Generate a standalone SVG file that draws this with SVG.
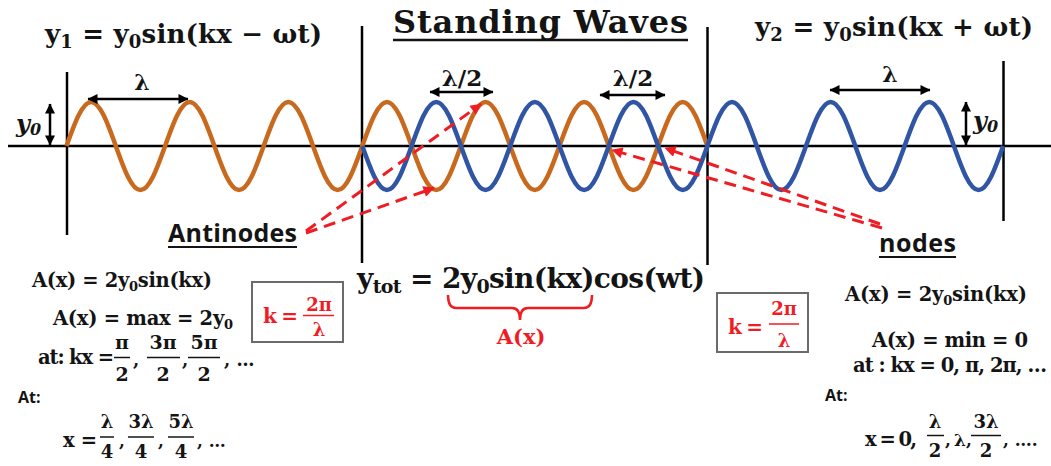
<svg xmlns="http://www.w3.org/2000/svg" width="1051" height="466" viewBox="0 0 1051 466">
<defs>
<marker id="ah" viewBox="0 0 10 10" refX="9.5" refY="5" markerWidth="11" markerHeight="10" markerUnits="userSpaceOnUse" orient="auto-start-reverse"><path d="M0 0 L10 5 L0 10 z" fill="#000"/></marker>
<marker id="rh" viewBox="0 0 10 10" refX="9.5" refY="5" markerWidth="13" markerHeight="11" markerUnits="userSpaceOnUse" orient="auto"><path d="M0 0 L10 5 L0 10 z" fill="#f01c24"/></marker>
<style>
.m{font-family:"DejaVu Serif","Liberation Serif",serif;font-weight:bold;fill:#141414}
.s{font-family:"Open Sans","Liberation Sans",sans-serif;font-weight:bold;fill:#141414}
.r{fill:#f01c24}
.c{text-anchor:middle}
.ln{stroke:#000;stroke-width:2.5;fill:none}
.dim{stroke:#000;stroke-width:2.5;marker-start:url(#ah);marker-end:url(#ah)}
.dash{stroke:#f01c24;stroke-width:3;stroke-dasharray:12 7;fill:none;marker-end:url(#rh)}
.box{fill:#fff;stroke:#6b6b6b;stroke-width:2}
.fb{stroke:#141414;stroke-width:1.5}
.fr{stroke:#f01c24;stroke-width:1.5}
.wo{fill:none;stroke:#c8691e;stroke-width:4.5}
.wb{fill:none;stroke:#2f55a4;stroke-width:4.5}
</style>
</defs>

<g id="frame">
<line class="ln" x1="8" y1="146" x2="1051" y2="146" stroke-width="3"/>
<line class="ln" x1="67" y1="72" x2="67" y2="235"/>
<line class="ln" x1="362" y1="26" x2="362" y2="263"/>
<line class="ln" x1="707.5" y1="27" x2="707.5" y2="265"/>
<line class="ln" x1="1003.5" y1="61" x2="1003.5" y2="221"/>
</g>

<g id="wave-y1">
<path class="wo" d="M66.5 146 c8.04 -22.54 15.73 -44 24.65 -44 s16.61 21.46 24.65 44 s15.73 44 24.65 44 s16.61 -21.46 24.65 -44 s15.73 -44 24.65 -44 s16.61 21.46 24.65 44 s15.73 44 24.65 44 s16.61 -21.46 24.65 -44 s15.73 -44 24.65 -44 s16.61 21.46 24.65 44 s15.73 44 24.65 44 s16.61 -21.46 24.65 -44 s15.73 -44 24.65 -44 s16.61 21.46 24.65 44 s15.73 44 24.65 44 s16.61 -21.46 24.65 -44 s15.73 -44 24.65 -44 s16.61 21.46 24.65 44 s15.73 44 24.65 44 s16.61 -21.46 24.65 -44 s15.73 -44 24.65 -44 s16.61 21.46 24.65 44 s15.73 44 24.65 44 s16.61 -21.46 24.65 -44 s15.73 -44 24.65 -44 s16.61 21.46 24.65 44"/>
</g>
<g id="wave-y2">
<path class="wb" d="M362.3 146 c8.04 22.54 15.73 44 24.65 44 s16.61 -21.46 24.65 -44 s15.73 -44 24.65 -44 s16.61 21.46 24.65 44 s15.73 44 24.65 44 s16.61 -21.46 24.65 -44 s15.73 -44 24.65 -44 s16.61 21.46 24.65 44 s15.73 44 24.65 44 s16.61 -21.46 24.65 -44 s15.73 -44 24.65 -44 s16.61 21.46 24.65 44 s15.73 44 24.65 44 s16.61 -21.46 24.65 -44 s15.73 -44 24.65 -44 s16.61 21.46 24.65 44 s15.73 44 24.65 44 s16.61 -21.46 24.65 -44 s15.73 -44 24.65 -44 s16.61 21.46 24.65 44 s15.73 44 24.65 44 s16.61 -21.46 24.65 -44 s15.73 -44 24.65 -44 s16.61 21.46 24.65 44 s15.73 44 24.65 44 s16.61 -21.46 24.65 -44"/>
</g>

<g id="title">
<text class="m" x="393" y="33" font-size="32" textLength="295">Standing Waves</text>
<line x1="393" y1="40" x2="688" y2="40" stroke="#141414" stroke-width="2.5"/>
</g>

<g id="eq-y1">
<text class="m" x="45" y="43" font-size="26" textLength="277">y<tspan font-size="18" dy="5">1</tspan><tspan dy="-5"> = y</tspan><tspan font-size="18" dy="5">0</tspan><tspan dy="-5">sin(kx − ωt)</tspan></text>
</g>
<g id="eq-y2">
<text class="m" x="755" y="36" font-size="26" textLength="278">y<tspan font-size="18" dy="5">2</tspan><tspan dy="-5"> = y</tspan><tspan font-size="18" dy="5">0</tspan><tspan dy="-5">sin(kx + ωt)</tspan></text>
</g>

<g id="dimensions">
<line class="dim" x1="88" y1="99" x2="188" y2="99"/>
<text class="m c" x="142" y="90" font-size="22">λ</text>
<line class="dim" x1="50" y1="104" x2="50" y2="145"/>
<text class="m" x="16" y="132" font-size="24" font-style="italic">y<tspan font-size="16" dy="3">0</tspan></text>
<line class="dim" x1="430" y1="92" x2="493" y2="92"/>
<text class="m c" x="462" y="86" font-size="23">λ/2</text>
<line class="dim" x1="600" y1="95" x2="665" y2="95"/>
<text class="m c" x="633" y="86" font-size="23">λ/2</text>
<line class="dim" x1="830" y1="90" x2="930" y2="90"/>
<text class="m c" x="890" y="82" font-size="22">λ</text>
<line class="dim" x1="966" y1="102" x2="966" y2="145"/>
<text class="m" x="973" y="129" font-size="24" font-style="italic">y<tspan font-size="16" dy="3">0</tspan></text>
</g>

<g id="connectors">
<line class="dash" x1="306" y1="231" x2="481" y2="104"/>
<line class="dash" x1="306" y1="233" x2="434" y2="188"/>
<line class="dash" x1="880" y1="224" x2="665" y2="148"/>
<line class="dash" x1="882" y1="228" x2="612" y2="150"/>
</g>

<g id="antinodes-label">
<text class="s" x="168" y="242" font-size="25" textLength="129">Antinodes</text>
<line x1="168" y1="247" x2="297" y2="247" stroke="#141414" stroke-width="2"/>
</g>
<g id="nodes-label">
<text class="s" x="879" y="252" font-size="25" textLength="77">nodes</text>
<line x1="879" y1="257" x2="956" y2="257" stroke="#141414" stroke-width="2"/>
</g>

<g id="eq-ytot">
<text class="m" x="357" y="288" font-size="28" textLength="348">y<tspan font-size="19" dy="5">tot</tspan><tspan dy="-5"> = 2y</tspan><tspan font-size="19" dy="5">0</tspan><tspan dy="-5">sin(kx)cos(wt)</tspan></text>
<path d="M448 295 Q448 308 456 308 L512 308 Q520 308 520 320 Q520 308 528 308 L584 308 Q592 308 592 295" fill="none" stroke="#f01c24" stroke-width="2.5"/>
<text class="m r c" x="521" y="344" font-size="21">A(x)</text>
</g>

<g id="k-box-left">
<rect class="box" x="252" y="282" width="91" height="60"/>
<text class="m r" x="263" y="323" font-size="20" textLength="35">k =</text>
<text class="m r c" x="319" y="311" font-size="18">2π</text>
<line class="fr" x1="303" y1="315.5" x2="334" y2="315.5"/>
<text class="m r c" x="319" y="336" font-size="18">λ</text>
</g>

<g id="k-box-right">
<rect class="box" x="717" y="293" width="91" height="59"/>
<text class="m r" x="728" y="334" font-size="20" textLength="35">k =</text>
<text class="m r c" x="784" y="315" font-size="18">2π</text>
<line class="fr" x1="769" y1="324" x2="799" y2="324"/>
<text class="m r c" x="784" y="347" font-size="18">λ</text>
</g>

<g id="antinode-math">
<text class="m" x="32" y="287" font-size="19.5" textLength="180">A(x) = 2y<tspan font-size="13" dy="4">0</tspan><tspan dy="-4">sin(kx)</tspan></text>
<text class="m" x="53" y="325" font-size="19.5" textLength="180">A(x) = max = 2y<tspan font-size="13" dy="4">0</tspan></text>
<text class="m" x="38" y="364" font-size="19.5" textLength="76">at: kx =</text>
<text class="m c" x="122" y="349" font-size="19">π</text>
<line class="fb" x1="114" y1="357.5" x2="130" y2="357.5"/>
<text class="m c" x="122" y="381" font-size="19">2</text>
<text class="m" x="133" y="366" font-size="18">,</text>
<text class="m c" x="163" y="349" font-size="19">3π</text>
<line class="fb" x1="147" y1="357.5" x2="180" y2="357.5"/>
<text class="m c" x="163" y="381" font-size="19">2</text>
<text class="m" x="182" y="366" font-size="18">,</text>
<text class="m c" x="204" y="349" font-size="19">5π</text>
<line class="fb" x1="188" y1="357.5" x2="220" y2="357.5"/>
<text class="m c" x="204" y="381" font-size="19">2</text>
<text class="m" x="224" y="366" font-size="18">, …</text>
<text class="s" x="18" y="403" font-size="16">At:</text>
<text class="m" x="63" y="447" font-size="19.5" textLength="34">x =</text>
<text class="m c" x="107" y="428" font-size="18">λ</text>
<line class="fb" x1="100" y1="437" x2="114" y2="437"/>
<text class="m c" x="107" y="458" font-size="18">4</text>
<text class="m" x="119" y="447" font-size="17">,</text>
<text class="m c" x="141" y="428" font-size="18">3λ</text>
<line class="fb" x1="128" y1="437" x2="154" y2="437"/>
<text class="m c" x="141" y="458" font-size="18">4</text>
<text class="m" x="158" y="447" font-size="17">,</text>
<text class="m c" x="181" y="428" font-size="18">5λ</text>
<line class="fb" x1="168" y1="437" x2="194" y2="437"/>
<text class="m c" x="181" y="458" font-size="18">4</text>
<text class="m" x="197" y="447" font-size="17">, …</text>
</g>

<g id="node-math">
<text class="m" x="845" y="301" font-size="19.5" textLength="182">A(x) = 2y<tspan font-size="13" dy="4">0</tspan><tspan dy="-4">sin(kx)</tspan></text>
<text class="m" x="872" y="347" font-size="19.5" textLength="156">A(x) = min = 0</text>
<text class="m" x="853" y="372" font-size="19.5" textLength="194">at :  kx = 0, π, 2π, …</text>
<text class="s" x="825" y="401" font-size="16">At:</text>
<text class="m" x="865" y="446" font-size="19.5" textLength="52">x = 0,</text>
<text class="m c" x="935" y="428" font-size="18">λ</text>
<line class="fb" x1="927" y1="435.5" x2="944" y2="435.5"/>
<text class="m c" x="935" y="457" font-size="18">2</text>
<text class="m" x="945" y="446" font-size="17">,</text>
<text class="m" x="954" y="446" font-size="17">λ,</text>
<text class="m c" x="986" y="428" font-size="18">3λ</text>
<line class="fb" x1="971" y1="435.5" x2="1001" y2="435.5"/>
<text class="m c" x="986" y="457" font-size="18">2</text>
<text class="m" x="1003" y="446" font-size="17">, ….</text>
</g>
</svg>
